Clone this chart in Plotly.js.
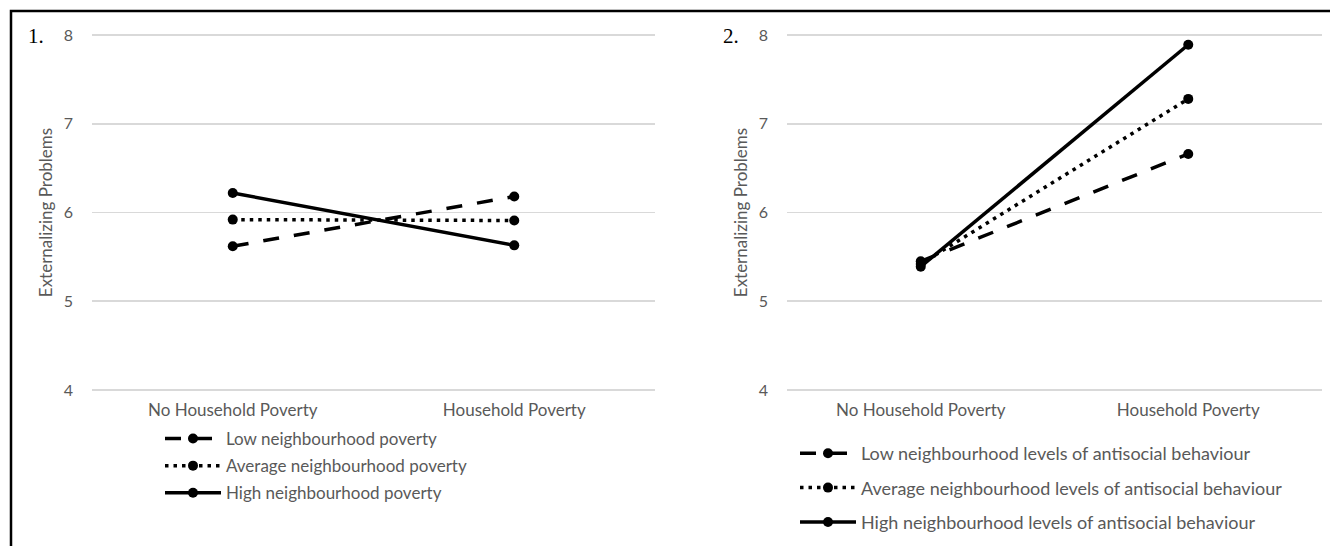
<!DOCTYPE html>
<html>
<head>
<meta charset="utf-8">
<script src="https://cdn.plot.ly/plotly-3.0.1.min.js"></script>
<style>html,body{margin:0;padding:0;background:#fff;}#chart{width:1330px;height:546px;}</style>
</head>
<body>
<div id="chart"></div>
<script>
// ---- data ----
const categories = ["No Household Poverty", "Household Poverty"];
const yTicks = [4, 5, 6, 7, 8];

const panel1Names = ["Low neighbourhood poverty", "Average neighbourhood poverty", "High neighbourhood poverty"];
const p1Low  = [5.62, 6.18];
const p1Avg  = [5.92, 5.91];
const p1High = [6.22, 5.63];

const panel2Names = ["Low neighbourhood levels of antisocial behaviour", "Average neighbourhood levels of antisocial behaviour", "High neighbourhood levels of antisocial behaviour"];
const p2Low  = [5.45, 6.66];
const p2Avg  = [5.42, 7.28];
const p2High = [5.39, 7.89];

// ---- styling ----
const W = 1330, H = 546;
const px = v => v / W;
const py = v => 1 - v / H;
const dashes = ["16px,15px", "3.5px,5px", "solid"];
const greyText = "#595959";
const sans = "Lato, 'Open Sans', sans-serif";

function mk(y, name, i, xa, ya, leg) {
  return {
    x: categories, y: y, name: name, type: "scatter", mode: "lines+markers",
    xaxis: xa, yaxis: ya, legend: leg, legendgroup: leg + i,
    line: {color: "#000", width: 3.5, dash: dashes[i]},
    marker: {color: "#000", size: 10, symbol: "circle"},
    hoverinfo: "x+y+name"
  };
}

const traces = [
  mk(p1Low, panel1Names[0], 0, "x", "y", "legend"),
  mk(p1Avg, panel1Names[1], 1, "x", "y", "legend"),
  mk(p1High, panel1Names[2], 2, "x", "y", "legend"),
  mk(p2Low, panel2Names[0], 0, "x2", "y2", "legend2"),
  mk(p2Avg, panel2Names[1], 1, "x2", "y2", "legend2"),
  mk(p2High, panel2Names[2], 2, "x2", "y2", "legend2")
];

// range padded slightly so the 4 and 8 gridlines are not clipped at the edges
const pad = 0.04, unitPx = 88.75;
const yRange = [4 - pad, 8 + pad];
const yDomain = [py(390 + pad * unitPx), py(35 - pad * unitPx)];
function yax(anchor) {
  return {
    domain: yDomain, range: yRange, tickvals: yTicks, anchor: anchor,
    showgrid: true, gridcolor: "#d9d9d9", gridwidth: 1.6, zeroline: false, showline: false,
    ticks: "", ticklabelstandoff: 18,
    tickfont: {family: sans, size: 16, color: greyText},
    title: {text: "Externalizing Problems", font: {family: sans, size: 17, color: greyText}, standoff: 6},
    fixedrange: true
  };
}
function xax(dom, anchor) {
  return {
    domain: dom, type: "category", range: [-0.5, 1.5], anchor: anchor,
    showgrid: false, zeroline: false, showline: false, ticks: "",
    tickfont: {family: sans, size: 17, color: greyText}, ticklabelstandoff: 4,
    fixedrange: true
  };
}

const layout = {
  width: W, height: H,
  margin: {l: 0, r: 0, t: 0, b: 0},
  paper_bgcolor: "#fff", plot_bgcolor: "#fff",
  showlegend: true,
  xaxis: xax([px(92), px(655)], "y"),
  yaxis: yax("x"),
  xaxis2: xax([px(787), px(1322)], "y2"),
  yaxis2: yax("x2"),
  legend: {
    x: px(160), y: py(421), xanchor: "left", yanchor: "top",
    font: {family: sans, size: 17, color: greyText},
    itemwidth: 56, tracegroupgap: 2, bgcolor: "rgba(0,0,0,0)"
  },
  legend2: {
    x: px(795), y: py(435), xanchor: "left", yanchor: "top",
    font: {family: sans, size: 18, color: greyText},
    itemwidth: 56, tracegroupgap: 8, bgcolor: "rgba(0,0,0,0)"
  },
  annotations: [
    {text: "1.", xref: "paper", yref: "paper", x: px(26), y: py(36), xanchor: "left", yanchor: "middle", showarrow: false,
     font: {family: "'Liberation Serif', 'Times New Roman', serif", size: 21, color: "#000"}},
    {text: "2.", xref: "paper", yref: "paper", x: px(721), y: py(36), xanchor: "left", yanchor: "middle", showarrow: false,
     font: {family: "'Liberation Serif', 'Times New Roman', serif", size: 21, color: "#000"}}
  ],
  shapes: [
    {type: "path", xref: "paper", yref: "paper",
     path: `M ${px(11)} ${py(550)} L ${px(11)} ${py(11)} L ${px(1332)} ${py(11)}`,
     line: {color: "#000", width: 2.5}}
  ]
};

Plotly.newPlot("chart", traces, layout, {displayModeBar: false, staticPlot: true});
</script>
</body>
</html>
